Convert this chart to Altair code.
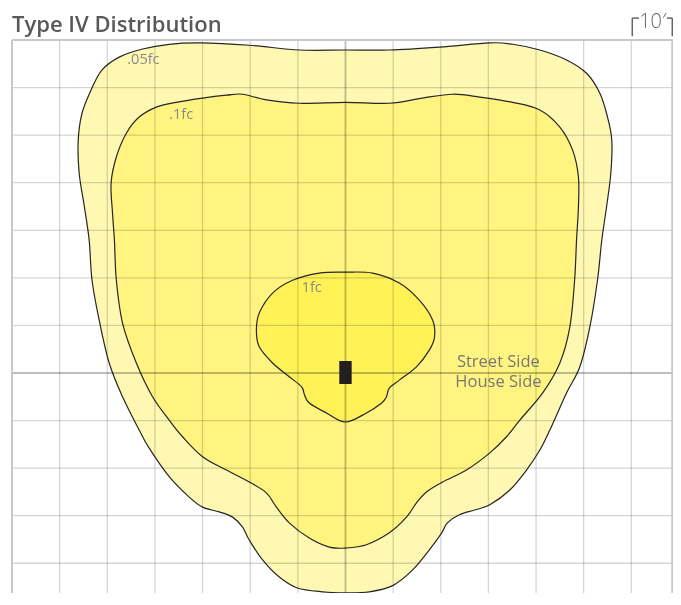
import altair as alt
import pandas as pd

# ---- contour outlines (feet; grid = 10 ft, fixture at origin) ----
outer_x = [0, 9.2, 19.7, 30.3, 35.1, 40.8, 46.4, 50.6, 53.4, 55.0, 55.9, 55.7, 54.8, 53.8, 52.9, 51.3,
           49.2, 46.4, 42.9, 40.8, 38.0, 34.5, 30.3, 27.1, 23.9, 21.4, 20.2, 17.6, 14.1, 9.9, 5.0, 0,
           -4.8, -10.1, -13.9, -17.4, -20.2, -21.6, -23.7, -26.5, -30.0, -32.8, -37.0, -41.2, -43.3,
           -46.8, -49.6, -51.7, -53.2, -53.8, -54.8, -55.9, -56.1, -55.3, -53.4, -51.1, -47.5, -42.6,
           -37.0, -30.7, -20.2, -9.7]
outer_y = [67.9, 67.9, 68.5, 69.4, 69.1, 67.9, 65.8, 63.0, 58.8, 53.8, 48.9, 42.0, 34.9, 27.9, 19.5, 9.7,
           1.3, -4.2, -12.0, -16.2, -20.4, -24.6, -27.7, -28.8, -29.8, -31.5, -33.6, -37.2, -41.4, -44.7,
           -46.0, -46.2, -46.0, -45.2, -42.9, -39.3, -35.1, -32.4, -30.3, -29.2, -28.2, -26.1, -21.8,
           -15.8, -12.0, -5.0, 2.1, 11.1, 19.5, 27.9, 34.9, 42.0, 48.9, 54.6, 59.5, 63.7, 66.4, 68.1,
           69.1, 69.4, 68.9, 67.9]

mid_x = [0, 9.2, 16.2, 22.5, 28.2, 35.1, 40.8, 45.0, 47.7, 48.9, 48.9, 48.5, 48.1, 47.1, 45.0, 41.4,
         36.6, 33.8, 30.3, 25.4, 20.4, 17.0, 14.9, 12.8, 9.2, 4.4, 0, -3.4, -7.6, -11.8, -14.5, -16.6,
         -20.2, -25.0, -30.0, -34.2, -37.0, -40.5, -43.9, -46.8, -48.1, -48.5, -48.9, -49.2, -48.1,
         -46.0, -43.3, -39.7, -35.5, -30.0, -25.0, -21.6, -16.6, -9.7]
mid_y = [56.9, 56.7, 57.8, 58.6, 58.0, 56.9, 55.3, 51.7, 46.8, 41.2, 34.9, 27.9, 19.5, 9.7, 2.1, -4.2,
         -9.9, -13.4, -16.8, -20.4, -22.9, -25.0, -27.3, -30.3, -33.6, -36.1, -36.8, -36.6, -34.7,
         -31.5, -28.2, -25.2, -22.9, -20.4, -17.6, -13.4, -9.9, -5.0, 2.1, 10.5, 19.5, 27.9, 33.6,
         39.9, 45.4, 50.4, 53.8, 55.9, 56.9, 57.8, 58.4, 58.6, 57.4, 56.7]

inner_x = [0, 5.7, 11.3, 15.5, 18.3, 18.7, 17.6, 14.9, 11.3, 9.2, 8.6, 7.6, 4.4, 0, -4.0, -7.6, -8.6,
           -9.2, -11.8, -15.3, -18.1, -18.7, -18.1, -15.3, -11.1, -5.5]
inner_y = [21.2, 21.0, 18.9, 15.3, 11.1, 7.6, 4.8, 1.3, -1.5, -3.2, -5.0, -6.3, -8.4, -10.3, -8.4, -6.3,
           -4.6, -2.9, -0.8, 2.1, 5.5, 9.0, 12.6, 16.8, 19.5, 21.0]

# fixture
lamp_x = [-1.3, 1.3]
lamp_y = [-2.3, 2.5]

# grid
grid_x = [-60, -50, -40, -30, -20, -10, 10, 20, 30, 40, 50, 60]
grid_y = [-40, -30, -20, -10, 10, 20, 30, 40, 50, 60]
frame_x = [-70, 68.6]
frame_y = [70]
axis_x = [0]
axis_y = [0]

# labels
title_text = ["Type IV Distribution"]
label_text = [".05fc", ".1fc", "1fc"]
label_x = [-45.8, -37.0, -9.2]
label_y = [65.8, 54.2, 17.9]
side_text = ["Street Side", "House Side"]
side_x = [32.1, 32.1]
side_y = [2.4, -1.9]

# 10' scale marker
bar_x = [60.2, 60.2, 67.5, 68.6]
bar_x2 = [60.2, 61.6, 68.6, 68.6]
bar_y = [70.8, 74.6, 74.6, 74.6]
bar_y2 = [74.6, 74.6, 74.6, 70.8]
scale_label = ["10\u2032"]
scale_label_x = [64.5]
scale_label_y = [72.5]

xs = alt.Scale(domain=[-70, 68.75], nice=False, zero=False)
ys = alt.Scale(domain=[-46.25, 70], nice=False, zero=False)
X = lambda f: alt.X(f, scale=xs, axis=None)
Y = lambda f: alt.Y(f, scale=ys, axis=None)


def contour(xv, yv, fill):
    df = pd.DataFrame({"x": xv, "y": yv, "i": list(range(len(xv)))})
    return alt.Chart(df).mark_line(
        interpolate="cardinal-closed", fill=fill, stroke="#262626", strokeWidth=1.2
    ).encode(x=X("x:Q"), y=Y("y:Q"), order="i:Q")


outer = contour(outer_x, outer_y, "#fff8b2")
mid = contour(mid_x, mid_y, "#fff47f")
inner = contour(inner_x, inner_y, "#fff257")

gx = alt.Chart(pd.DataFrame({"x": grid_x})).mark_rule(
    color="#d6d6d6", strokeWidth=1.3, blend="multiply").encode(x=X("x:Q"))
gy = alt.Chart(pd.DataFrame({"y": grid_y})).mark_rule(
    color="#d6d6d6", strokeWidth=1.3, blend="multiply").encode(y=Y("y:Q"))
fx = alt.Chart(pd.DataFrame({"x": frame_x})).mark_rule(
    color="#c8c8c8", strokeWidth=2).encode(x=X("x:Q"))
fy = alt.Chart(pd.DataFrame({"y": frame_y})).mark_rule(
    color="#c8c8c8", strokeWidth=2).encode(y=Y("y:Q"))
ax = alt.Chart(pd.DataFrame({"x": axis_x})).mark_rule(
    color="#bdbdbd", strokeWidth=1.8, blend="multiply").encode(x=X("x:Q"))
ay = alt.Chart(pd.DataFrame({"y": axis_y})).mark_rule(
    color="#bdbdbd", strokeWidth=1.8, blend="multiply").encode(y=Y("y:Q"))

lamp = alt.Chart(pd.DataFrame({"x": [lamp_x[0]], "x2": [lamp_x[1]], "y": [lamp_y[0]], "y2": [lamp_y[1]]})
                 ).mark_rect(color="#231f20").encode(x=X("x:Q"), x2="x2:Q", y=Y("y:Q"), y2="y2:Q")

labels = alt.Chart(pd.DataFrame({"t": label_text, "x": label_x, "y": label_y})).mark_text(
    align="left", baseline="middle", font="Open Sans", fontSize=14.5, color="#8a8a8a"
).encode(x=X("x:Q"), y=Y("y:Q"), text="t:N")

sides = alt.Chart(pd.DataFrame({"t": side_text, "x": side_x, "y": side_y})).mark_text(
    align="center", baseline="middle", font="Open Sans", fontSize=16.5, color="#777777"
).encode(x=X("x:Q"), y=Y("y:Q"), text="t:N")

bar = alt.Chart(pd.DataFrame({"x": bar_x, "x2": bar_x2, "y": bar_y, "y2": bar_y2})).mark_rule(
    color="#666666", strokeWidth=1.5
).encode(x=X("x:Q"), x2="x2:Q", y=Y("y:Q"), y2="y2:Q")

bar_label = alt.Chart(pd.DataFrame({"t": scale_label, "x": scale_label_x, "y": scale_label_y})).mark_text(
    align="center", baseline="alphabetic", font="Open Sans", fontSize=20, fontWeight=300, color="#666666"
).encode(x=X("x:Q"), y=Y("y:Q"), text="t:N")

title = alt.Chart(pd.DataFrame({"t": title_text})).mark_text(
    align="left", baseline="alphabetic", font="Open Sans", fontSize=22, fontWeight=600, color="#58595b"
).encode(x=alt.value(0), y=alt.value(-8), text="t:N")

chart = alt.layer(
    outer, mid, inner, gx, gy, ax, ay, fx, fy, lamp, labels, sides, bar, bar_label, title
).properties(
    width=661, height=553,
    padding={"left": 4, "top": 32, "right": 0, "bottom": 0},
    autosize="none",
).configure_view(stroke=None)

chart.save("out.html", embed_options={"renderer": "svg", "actions": False})
